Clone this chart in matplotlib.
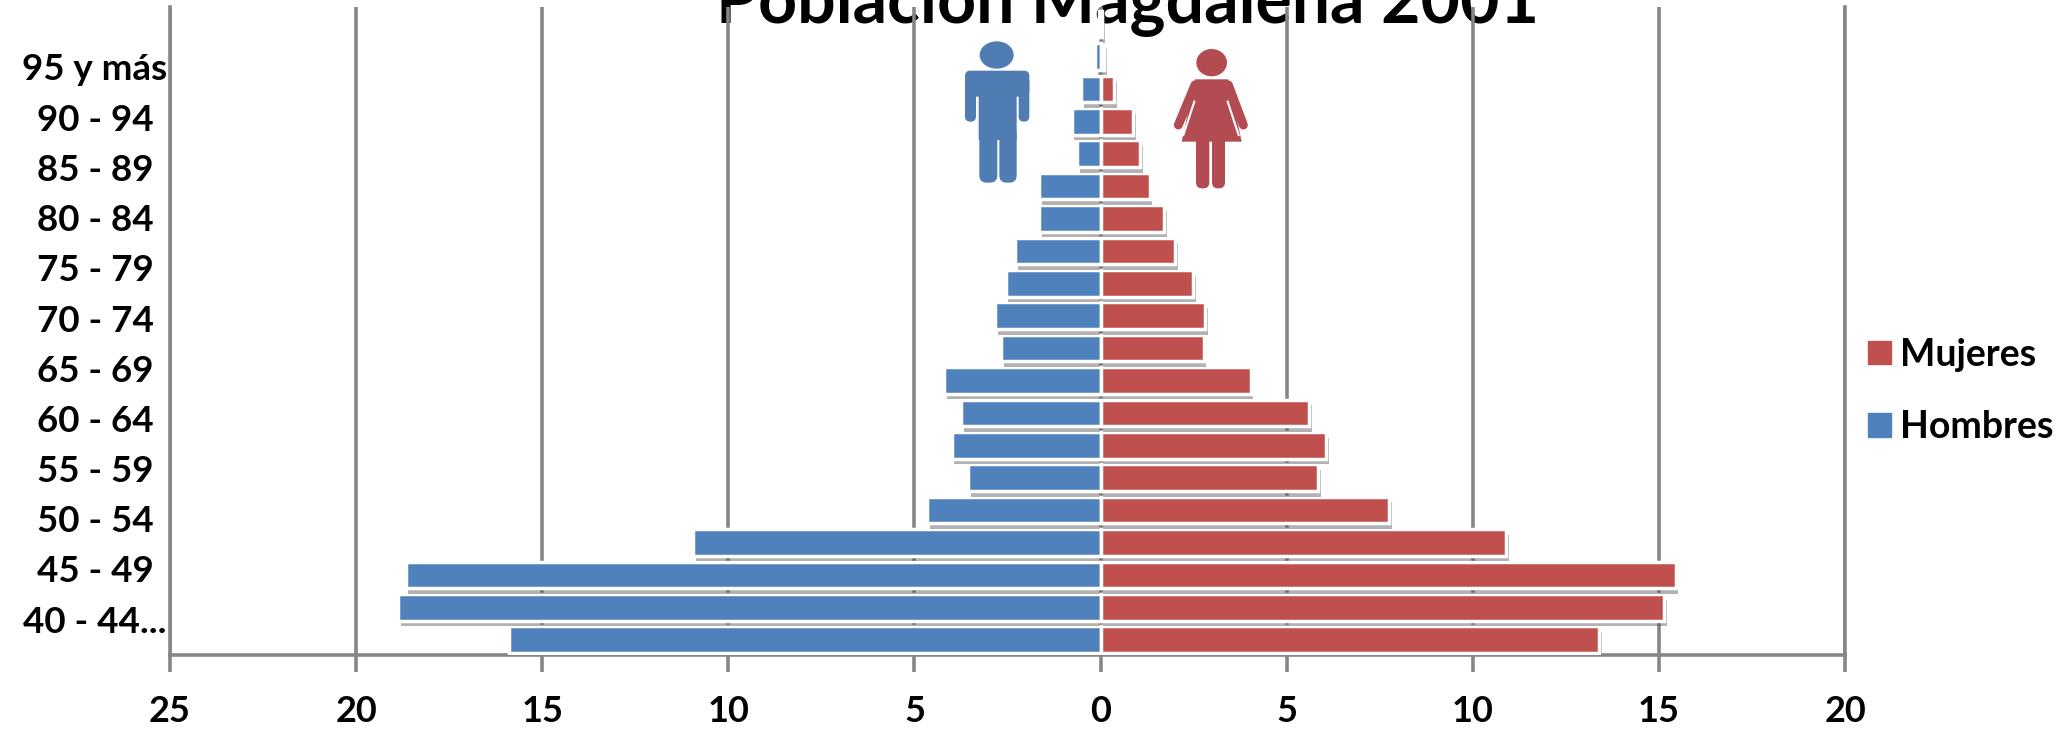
import matplotlib
matplotlib.use("Agg")
import matplotlib.pyplot as plt
import matplotlib.patheffects as pe
from matplotlib.patches import Ellipse, FancyBboxPatch, Patch, Polygon

plt.rcParams["font.family"] = ["Lato", "DejaVu Sans"]

# one bar per age group, bottom to top, percent
hombres = [15.9, 18.87, 18.67, 10.95, 4.65, 3.55, 4.0, 3.75, 4.2, 2.68,
           2.83, 2.55, 2.3, 1.66, 1.66, 0.63, 0.78, 0.52, 0.15, 0.05]
mujeres = [13.4, 15.13, 15.45, 10.9, 7.75, 5.85, 6.05, 5.6, 4.03, 2.77,
           2.8, 2.48, 2.0, 1.7, 1.32, 1.07, 0.88, 0.37, 0.1, 0.05]
edades = ["95 y más", "90 - 94", "85 - 89", "80 - 84", "75 - 79", "70 - 74",
          "65 - 69", "60 - 64", "55 - 59", "50 - 54", "45 - 49", "40 - 44..."]
ticks_x = [-25, -20, -15, -10, -5, 0, 5, 10, 15, 20]

AZUL = "#4F81BD"
ROJO = "#C0504D"
GRIS = "#868686"
W, H = 2063, 730

fig = plt.figure(figsize=(W / 100, H / 100), dpi=100)
ax = fig.add_axes([170 / W, 1 - 655 / H, (1845 - 170) / W, (655 - 7) / H])
ax.patch.set_visible(False)
ax.set_zorder(2)

fig.text(1128 / W, 1 - 23 / H, "Población Magdalena 2001", ha="center", va="baseline",
         fontsize=49, fontweight="bold", zorder=-1)

sombra = [pe.SimplePatchShadow(offset=(2, -4), shadow_rgbFace="#555555", alpha=0.45), pe.Normal()]
pos = range(len(hombres))
ax.barh([p - 0.03 for p in pos], [-v for v in hombres], height=0.82, color=AZUL, edgecolor="white",
        linewidth=2.5, zorder=3, path_effects=sombra)
ax.barh([p - 0.03 for p in pos], mujeres, height=0.82, color=ROJO, edgecolor="white",
        linewidth=2.5, zorder=3, path_effects=sombra)

ax.set_xlim(-25, 20)
ax.set_ylim(-0.5, 19.5)
ax.set_xticks(ticks_x)
ax.set_xticklabels([str(abs(t)) for t in ticks_x], fontsize=26, fontweight="bold")
ax.tick_params(axis="x", length=12, width=2.6, color=GRIS, pad=17)
ax.set_yticks([])
ax.xaxis.grid(True, color=GRIS, linewidth=2.6)
ax.set_axisbelow(True)
for lado in ["left", "right", "bottom"]:
    ax.spines[lado].set_color(GRIS)
    ax.spines[lado].set_linewidth(2.6)
ax.spines["top"].set_visible(False)

# the age labels do not line up with the bars in the original
for i, txt in enumerate(edades):
    fig.text(95 / W, 1 - (70 + i * 50.2) / H, txt, ha="center", va="center",
             fontsize=26.5, fontweight="bold")

handles = [Patch(color=ROJO, label="Mujeres"), Patch(color=AZUL, label="Hombres")]
fig.legend(handles=handles, loc="center left", bbox_to_anchor=(1868 / W, 1 - 391 / H), frameon=False,
           prop={"size": 27, "weight": "bold"}, handlelength=0.6, handleheight=0.6,
           handletextpad=0.25, labelspacing=1.03, borderpad=0, borderaxespad=0)

# pictograms, drawn in the 3x zoom coordinates of that region
iconos = fig.add_axes([900 / W, 1 - 220 / H, 420 / W, 220 / H])
iconos.set_xlim(0, 1260)
iconos.set_ylim(660, 0)
iconos.axis("off")
iconos.set_zorder(3)


def caja(x0, y0, x1, y1, color, r=16):
    iconos.add_patch(FancyBboxPatch((x0 + r, y0 + r), x1 - x0 - 2 * r, y1 - y0 - 2 * r,
                                    boxstyle=f"round,pad={r}", fc=color, ec="none"))


HOMBRE = "#4F7DB3"
iconos.add_patch(Ellipse((290, 165), 102, 82, fc=HOMBRE, ec="none"))
caja(195, 212, 388, 290, HOMBRE)
caja(195, 230, 228, 365, HOMBRE)
caja(356, 230, 388, 365, HOMBRE)
caja(236, 230, 350, 420, HOMBRE, r=4)
caja(238, 380, 292, 548, HOMBRE, r=22)
caja(298, 380, 350, 548, HOMBRE, r=22)

MUJER = "#B34C52"
iconos.add_patch(Ellipse((935, 188), 92, 82, fc=MUJER, ec="none"))
iconos.add_patch(Polygon([(885, 238), (985, 238), (1025, 425), (845, 425)], fc=MUJER, ec="none"))
iconos.plot([885, 835], [255, 375], color=MUJER, lw=6.5, solid_capstyle="round")
iconos.plot([985, 1030], [255, 375], color=MUJER, lw=6.5, solid_capstyle="round")
iconos.plot([883, 850], [305, 405], color="white", lw=1.5)
iconos.plot([983, 1016], [305, 405], color="white", lw=1.5)
caja(888, 410, 928, 565, MUJER, r=18)
caja(936, 410, 975, 565, MUJER, r=18)

plt.savefig("out.png", dpi=100)
plt.close()
